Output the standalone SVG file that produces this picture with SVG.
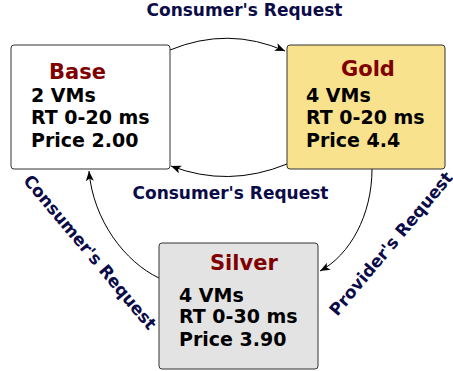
<svg xmlns="http://www.w3.org/2000/svg" width="453" height="371" viewBox="0 0 453 371">
<defs>
<marker id="ah" markerUnits="userSpaceOnUse" markerWidth="11" markerHeight="9" refX="10" refY="4" orient="auto">
<path d="M0,0 L10,4 L0,8 L2.5,4 Z" fill="#000"/>
</marker>
<style>
.box{stroke:#333;stroke-width:1}
.t{font-family:"DejaVu Sans",sans-serif;font-weight:bold}
.ttl{font-size:21px;fill:#800000}
.bd{font-size:19px;fill:#000}
.lbl{font-size:17px;fill:#0b0b48}
.c{fill:none;stroke:#000;stroke-width:1;marker-end:url(#ah)}
</style>
</defs>
<rect width="453" height="371" fill="#fff"/>
<g id="connectors">
<path class="c" d="M170,50 Q228,26 285,51"/>
<path class="c" d="M287,164 Q228,188 171,166"/>
<path class="c" d="M372,169 C372,215 350,255 320,271"/>
<path class="c" d="M159,278 C125,262 93,220 89,171"/>
</g>
<g id="base">
<rect class="box" x="11" y="45" width="159" height="124" rx="3" fill="#fff"/>
<text class="t ttl" x="49" y="79">Base</text>
<text class="t bd" x="31" y="102">2 VMs</text>
<text class="t bd" x="31" y="124">RT 0-20 ms</text>
<text class="t bd" x="31" y="147">Price 2.00</text>
</g>
<g id="gold">
<rect class="box" x="287" y="45" width="158" height="124" rx="3" fill="#f9e28d"/>
<text class="t ttl" x="341" y="76">Gold</text>
<text class="t bd" x="306" y="102">4 VMs</text>
<text class="t bd" x="306" y="124">RT 0-20 ms</text>
<text class="t bd" x="306" y="147">Price 4.4</text>
</g>
<g id="silver">
<rect class="box" x="159" y="243" width="159" height="126" rx="3" fill="#e3e3e3"/>
<text class="t ttl" x="210" y="270">Silver</text>
<text class="t bd" x="179" y="302">4 VMs</text>
<text class="t bd" x="179" y="323">RT 0-30 ms</text>
<text class="t bd" x="179" y="346">Price 3.90</text>
</g>
<g id="labels">
<text class="t lbl" x="244.5" y="16" text-anchor="middle">Consumer's Request</text>
<text class="t lbl" x="230.5" y="199" text-anchor="middle">Consumer's Request</text>
<text class="t lbl" text-anchor="middle" transform="translate(85.5,256) rotate(50)">Consumer's Request</text>
<text class="t lbl" text-anchor="middle" transform="translate(395.5,247.5) rotate(-50)">Provider's Request</text>
</g>
</svg>
